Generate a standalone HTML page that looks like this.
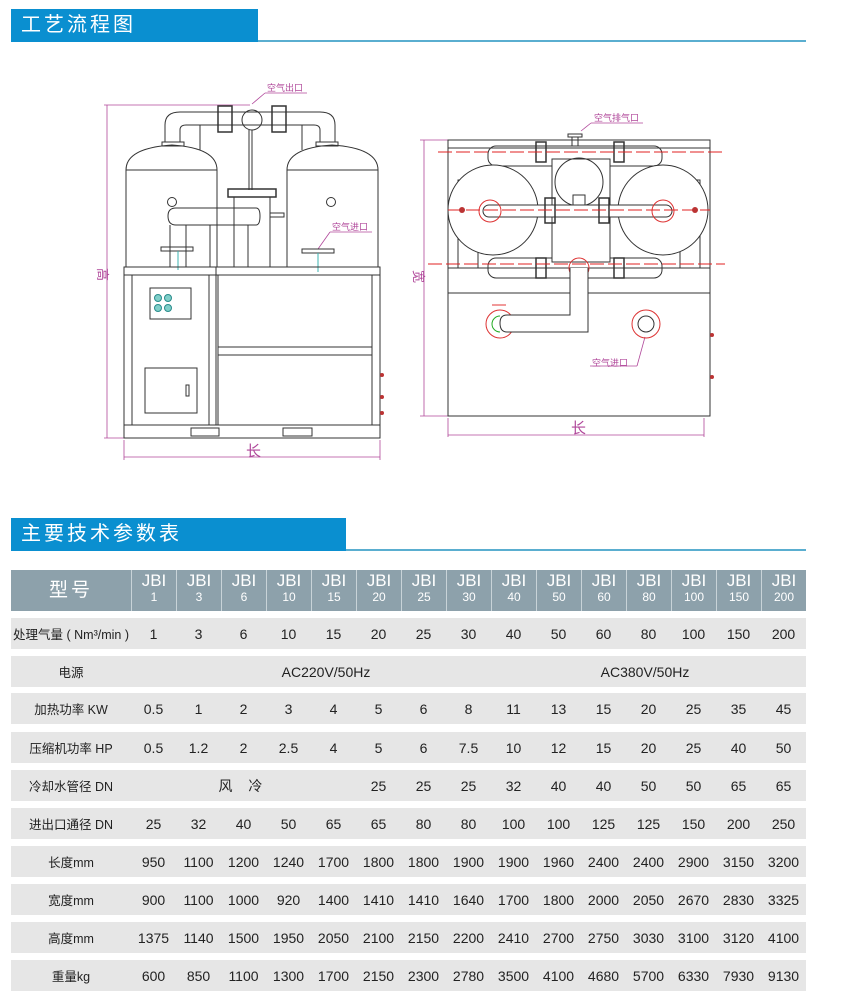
<!DOCTYPE html>
<html><head><meta charset="utf-8"><style>
*{margin:0;padding:0;box-sizing:border-box}
body{width:846px;height:991px;background:#fff;position:relative;overflow:hidden;font-family:"Liberation Sans","Noto Sans CJK SC",sans-serif}
.hb{position:absolute;background:#0a8fd0;color:#fff;font-size:20px;letter-spacing:3px;padding-left:10px;line-height:33px;height:33px}
.hl{position:absolute;height:2px;background:#5aaed0}
.row{position:absolute;left:11px;width:795px;height:31px;background:#e6e6e6;display:flex;align-items:center;font-size:14px;color:#222}
.row div{width:45px;text-align:center}
.row div.f{width:120px;font-size:12.5px}
.hdr{position:absolute;left:11px;top:570px;width:795px;height:41px;background:#8da1ab;display:flex;color:#fff}
.hdr div{width:45px;border-left:1px solid #c8d3d8;text-align:center;line-height:17px;padding-top:2px}
.hdr div.f{width:120px;border:none;font-size:19px;line-height:41px;padding:0;letter-spacing:3px}
.hdr span{display:block;font-size:17px}
.hdr small{display:block;font-size:12px}
</style></head><body>
<div class="hb" style="left:11px;top:9px;width:247px">工艺流程图</div>
<div class="hl" style="left:258px;top:40px;width:548px"></div>
<div class="hb" style="left:11px;top:518px;width:335px">主要技术参数表</div>
<div class="hl" style="left:346px;top:549px;width:460px"></div>

<svg width="846" height="500" style="position:absolute;left:0;top:0" fill="none" stroke="#333" stroke-width="1">
<g stroke="#b0479a" stroke-width="0.8">
<line x1="107" y1="105" x2="107" y2="438"/><line x1="104" y1="105" x2="250" y2="105"/><line x1="104" y1="438" x2="124" y2="438"/>
<line x1="124" y1="440" x2="124" y2="460"/><line x1="380" y1="440" x2="380" y2="460"/><line x1="124" y1="457" x2="380" y2="457"/>
<line x1="252" y1="104" x2="265" y2="93"/><line x1="265" y1="93" x2="307" y2="93"/>
<line x1="318" y1="249" x2="330" y2="232"/><line x1="330" y1="232" x2="372" y2="232"/>
</g>
<g font-size="9" fill="#b0479a" stroke="none" font-family="Liberation Sans,Noto Sans CJK SC,sans-serif">
<text x="267" y="91">空气出口</text><text x="332" y="230">空气进口</text>
<text x="246" y="456" font-size="15">长</text>
<text x="0" y="0" font-size="13" transform="translate(98,268) rotate(90)">高</text>
<text x="594" y="121">空气排气口</text><text x="560" y="187" font-size="12">空气出口</text><text x="592" y="366">空气进口</text>
<text x="571" y="433" font-size="15">长</text>
<text x="0" y="0" font-size="13" transform="translate(414,270) rotate(90)">宽</text>
</g>
<path d="M126 267 V170 Q126 148 172 145 Q217 148 217 170 V267"/><line x1="126" y1="170" x2="217" y2="170"/>
<path d="M287 267 V170 Q287 148 332 145 Q378 148 378 170 V267"/><line x1="287" y1="170" x2="378" y2="170"/>
<circle cx="172" cy="202" r="4.5"/><circle cx="331" cy="202" r="4.5"/>
<path d="M165 142 V125 Q165 112 180 112 H320 Q335 112 335 125 V142"/><path d="M180 142 V130 Q180 125 186 125 H314 Q320 125 320 130 V142"/>
<rect x="162" y="142" width="22" height="4"/><rect x="316" y="142" width="22" height="4"/>
<rect x="218" y="106" width="14" height="26" stroke-width="1.5"/><rect x="272" y="106" width="14" height="26" stroke-width="1.5"/>
<circle cx="252" cy="120" r="10"/>
<line x1="249" y1="130" x2="249" y2="190"/><line x1="252" y1="130" x2="252" y2="190"/>
<rect x="228" y="189" width="48" height="8" stroke-width="1.5"/>
<line x1="234" y1="197" x2="234" y2="267"/><line x1="270" y1="197" x2="270" y2="267"/>
<line x1="200" y1="125" x2="200" y2="150"/><line x1="302" y1="125" x2="302" y2="150"/>
<path d="M176 208 H256 Q260 208 260 216 Q260 225 256 225 H176 Q168 225 168 216 Q168 208 176 208Z"/>
<line x1="170" y1="225" x2="170" y2="267"/><line x1="186" y1="225" x2="186" y2="267"/>
<line x1="210" y1="225" x2="210" y2="267"/><line x1="248" y1="225" x2="248" y2="267"/>
<rect x="270" y="213" width="14" height="4"/>
<rect x="161" y="247" width="32" height="4"/><rect x="302" y="249" width="32" height="4"/>
<line x1="178" y1="251" x2="178" y2="270" stroke="#3bb3b0"/><line x1="318" y1="253" x2="318" y2="272" stroke="#3bb3b0"/>
<rect x="124" y="267" width="256" height="171"/><line x1="124" y1="275" x2="380" y2="275"/>
<rect x="132" y="275" width="77" height="150"/><line x1="216" y1="267" x2="216" y2="425"/>
<rect x="218" y="275" width="154" height="150"/><line x1="218" y1="347" x2="372" y2="347"/><line x1="218" y1="355" x2="372" y2="355"/>
<line x1="124" y1="425" x2="380" y2="425"/>
<rect x="191" y="428" width="28" height="8"/><rect x="283" y="428" width="29" height="8"/>
<rect x="150" y="288" width="41" height="31"/>
<g stroke="#2a8c8c" fill="#7fcfc9"><circle cx="158" cy="298" r="3.5"/><circle cx="168" cy="298" r="3.5"/><circle cx="158" cy="308" r="3.5"/><circle cx="168" cy="308" r="3.5"/></g>
<rect x="145" y="368" width="52" height="45"/><rect x="186" y="385" width="3" height="11"/>
<g fill="#b33" stroke="none"><circle cx="382" cy="375" r="2"/><circle cx="382" cy="397" r="2"/><circle cx="382" cy="413" r="2"/></g>

<g stroke="#b0479a" stroke-width="0.8">
<line x1="424" y1="140" x2="424" y2="416"/><line x1="420" y1="140" x2="448" y2="140"/><line x1="420" y1="416" x2="448" y2="416"/>
<line x1="448" y1="418" x2="448" y2="437"/><line x1="704" y1="418" x2="704" y2="437"/><line x1="448" y1="435" x2="704" y2="435"/>
<line x1="581" y1="131" x2="591" y2="123"/><line x1="591" y1="123" x2="643" y2="123"/>
<line x1="645" y1="337" x2="637" y2="366"/><line x1="637" y1="366" x2="590" y2="366"/>
</g>
<rect x="448" y="140" width="262" height="276"/><line x1="448" y1="293" x2="710" y2="293"/>
<line x1="448" y1="148" x2="710" y2="148"/><line x1="448" y1="268" x2="710" y2="268"/>
<rect x="458" y="180" width="20" height="88"/><rect x="680" y="180" width="20" height="88"/>
<rect x="488" y="146" width="174" height="20" rx="8"/>
<rect x="488" y="258" width="174" height="20" rx="8"/>
<circle cx="493" cy="210" r="45" fill="#fff"/><circle cx="663" cy="210" r="45" fill="#fff"/>
<rect x="552" y="159" width="58" height="103" fill="#fff"/>
<circle cx="579" cy="182" r="24"/><path d="M573 195 h12 v10 q-6 8 -12 0z"/>
<rect x="483" y="205" width="189" height="12" rx="6" fill="#fff"/>
<g stroke="#d33"><circle cx="490" cy="211" r="11"/><circle cx="663" cy="211" r="11"/><circle cx="500" cy="324" r="14"/><circle cx="646" cy="324" r="14"/><circle cx="579" cy="268" r="10"/></g>
<circle cx="646" cy="324" r="8"/><path d="M500 316 a8 8 0 0 0 0 16" stroke="#2a2"/>
<path d="M570 268 V315 H507 Q500 315 500 323 Q500 332 507 332 H588 V268" fill="#fff"/>
<g stroke-width="1.5"><rect x="536" y="142" width="10" height="20"/><rect x="614" y="142" width="10" height="20"/><rect x="545" y="198" width="10" height="25"/><rect x="599" y="198" width="10" height="25"/><rect x="536" y="258" width="10" height="20"/><rect x="614" y="258" width="10" height="20"/></g>
<rect x="568" y="134" width="14" height="3"/><line x1="572" y1="137" x2="572" y2="146"/><line x1="578" y1="137" x2="578" y2="146"/>
<g stroke="#e02020" stroke-dasharray="14 4" stroke-width="0.9"><line x1="438" y1="152" x2="725" y2="152"/><line x1="448" y1="210" x2="710" y2="210"/><line x1="428" y1="264" x2="725" y2="264"/><line x1="492" y1="305" x2="508" y2="305"/></g>
<g fill="#b33" stroke="none"><circle cx="712" cy="335" r="2"/><circle cx="712" cy="377" r="2"/><circle cx="462" cy="210" r="3"/><circle cx="695" cy="210" r="3"/></g>
</svg>

<div class="hdr"><div class="f">型号</div>
<div><span>JBI</span><small>1</small></div><div><span>JBI</span><small>3</small></div><div><span>JBI</span><small>6</small></div><div><span>JBI</span><small>10</small></div><div><span>JBI</span><small>15</small></div><div><span>JBI</span><small>20</small></div><div><span>JBI</span><small>25</small></div><div><span>JBI</span><small>30</small></div><div><span>JBI</span><small>40</small></div><div><span>JBI</span><small>50</small></div><div><span>JBI</span><small>60</small></div><div><span>JBI</span><small>80</small></div><div><span>JBI</span><small>100</small></div><div><span>JBI</span><small>150</small></div><div><span>JBI</span><small>200</small></div></div>

<div class="row" style="top:618px"><div class="f">处理气量 ( Nm³/min )</div><div>1</div><div>3</div><div>6</div><div>10</div><div>15</div><div>20</div><div>25</div><div>30</div><div>40</div><div>50</div><div>60</div><div>80</div><div>100</div><div>150</div><div>200</div></div>
<div class="row" style="top:656px"><div class="f">电源</div><div style="width:390px">AC220V/50Hz</div><div style="width:248px">AC380V/50Hz</div></div>
<div class="row" style="top:693px"><div class="f">加热功率 KW</div><div>0.5</div><div>1</div><div>2</div><div>3</div><div>4</div><div>5</div><div>6</div><div>8</div><div>11</div><div>13</div><div>15</div><div>20</div><div>25</div><div>35</div><div>45</div></div>
<div class="row" style="top:732px"><div class="f">压缩机功率 HP</div><div>0.5</div><div>1.2</div><div>2</div><div>2.5</div><div>4</div><div>5</div><div>6</div><div>7.5</div><div>10</div><div>12</div><div>15</div><div>20</div><div>25</div><div>40</div><div>50</div></div>
<div class="row" style="top:770px"><div class="f">冷却水管径 DN</div><div style="width:225px;letter-spacing:6px">风 冷</div><div>25</div><div>25</div><div>25</div><div>32</div><div>40</div><div>40</div><div>50</div><div>50</div><div>65</div><div>65</div></div>
<div class="row" style="top:808px"><div class="f">进出口通径 DN</div><div>25</div><div>32</div><div>40</div><div>50</div><div>65</div><div>65</div><div>80</div><div>80</div><div>100</div><div>100</div><div>125</div><div>125</div><div>150</div><div>200</div><div>250</div></div>
<div class="row" style="top:846px"><div class="f">长度mm</div><div>950</div><div>1100</div><div>1200</div><div>1240</div><div>1700</div><div>1800</div><div>1800</div><div>1900</div><div>1900</div><div>1960</div><div>2400</div><div>2400</div><div>2900</div><div>3150</div><div>3200</div></div>
<div class="row" style="top:884px"><div class="f">宽度mm</div><div>900</div><div>1100</div><div>1000</div><div>920</div><div>1400</div><div>1410</div><div>1410</div><div>1640</div><div>1700</div><div>1800</div><div>2000</div><div>2050</div><div>2670</div><div>2830</div><div>3325</div></div>
<div class="row" style="top:922px"><div class="f">高度mm</div><div>1375</div><div>1140</div><div>1500</div><div>1950</div><div>2050</div><div>2100</div><div>2150</div><div>2200</div><div>2410</div><div>2700</div><div>2750</div><div>3030</div><div>3100</div><div>3120</div><div>4100</div></div>
<div class="row" style="top:960px"><div class="f">重量kg</div><div>600</div><div>850</div><div>1100</div><div>1300</div><div>1700</div><div>2150</div><div>2300</div><div>2780</div><div>3500</div><div>4100</div><div>4680</div><div>5700</div><div>6330</div><div>7930</div><div>9130</div></div>
</body></html>
